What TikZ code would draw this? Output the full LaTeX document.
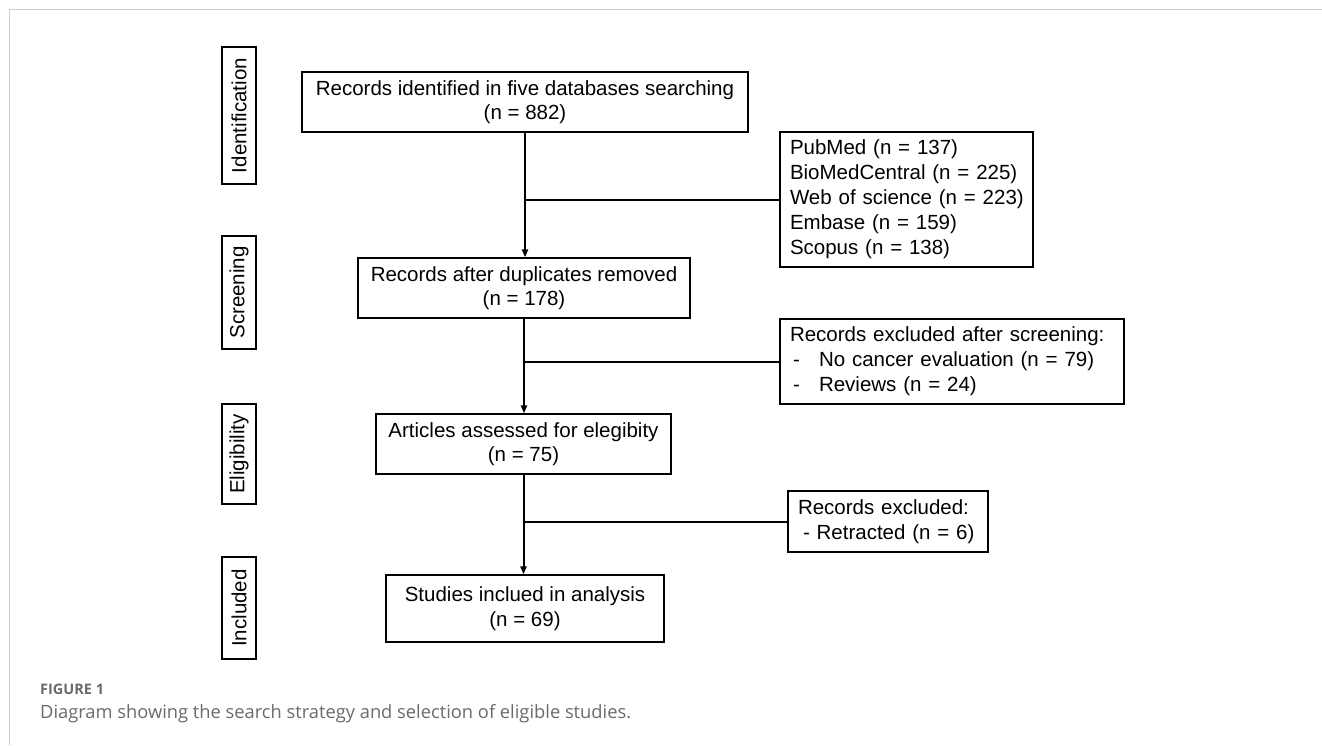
\documentclass[tikz,border=0pt]{standalone}
\usepackage{fontspec}
\setmainfont{Liberation Sans}
\newfontfamily\capfont{Open Sans}
\usetikzlibrary{arrows.meta}
\definecolor{framegray}{HTML}{CCCCCC}
\definecolor{capgray}{HTML}{6A6A6A}
\begin{document}
\begin{tikzpicture}[x=1pt,y=-1pt,
  box/.style={draw, line width=1.3pt, inner sep=0pt, align=center,
    font=\fontsize{20.5}{24.5}\selectfont},
  lbox/.style={draw, line width=1.3pt, inner xsep=10pt, inner ysep=0pt, align=left,
    font=\fontsize{20.5}{25}\selectfont},
  side/.style={draw, line width=1.6pt, inner sep=0pt, rotate=90, minimum height=34pt,
    font=\fontsize{20.5}{24}\selectfont},
  flow/.style={line width=2pt, -{Triangle[length=8pt,width=6pt]}},
  branch/.style={line width=2pt}
]
\useasboundingbox (0,0) rectangle (1322,745);
\draw[framegray, line width=1pt] (9,745) -- (9,9) -- (1322,9);

% phase labels
\node[side, minimum width=137pt] (sid) at (239,115.5) {Identification};
\node[side, minimum width=113pt] (sscr) at (239,292.5) {Screening};
\node[side, minimum width=100pt] (selg) at (239,454) {Eligibility};
\node[side, minimum width=102pt] (sinc) at (239,608) {Included};

% main boxes
\node[box, minimum width=446pt, minimum height=60pt] (b1) at (525,102)
  {Records identified in five databases searching\\(n = 882)};
\node[box, minimum width=332pt, minimum height=60pt] (b2) at (524,288)
  {Records after duplicates removed\\(n = 178)};
\node[box, minimum width=295pt, minimum height=60pt] (b3) at (523.5,444)
  {Articles assessed for elegibity\\(n = 75)};
\node[box, minimum width=278pt, minimum height=67pt] (b4) at (525,608.5)
  {Studies inclued in analysis\\(n = 69)};

% side boxes
\node[lbox, text width=233pt, minimum height=135pt] (src) at (906.5,199.5)
  {\mbox{PubMed (n = 137)}\\\mbox{BioMedCentral (n = 225)}\\\mbox{Web of science (n = 223)}\\\mbox{Embase (n = 159)}\\\mbox{Scopus (n = 138)}};
\node[lbox, text width=324pt, minimum height=85pt] (exc) at (952,361.5)
  {Records excluded after screening:\\\makebox[29pt][l]{\hspace{3pt}-}No cancer evaluation (n = 79)\\\makebox[29pt][l]{\hspace{3pt}-}Reviews (n = 24)};
\node[lbox, text width=180pt, minimum height=61pt] (ret) at (888,521.5)
  {Records excluded:\\\hspace{5pt}- Retracted (n = 6)};

% connectors
\draw[flow] (b1.south) -- (b1.south |- b2.north);
\draw[branch] (b1.south |- src.west) -- (src.west);
\draw[flow] (b2.south) -- (b2.south |- b3.north);
\draw[branch] (b2.south |- exc.west) -- (exc.west);
\draw[flow] (b3.south) -- (b3.south |- b4.north);
\draw[branch] (b3.south |- ret.west) -- (ret.west);

% caption
\node[anchor=base west, inner sep=0pt, text=capgray, font=\capfont\bfseries\fontsize{14.5}{16}\selectfont] (fig) at (40,694) {FIGURE 1};
\node[anchor=base west, inner sep=0pt, text=capgray, font=\capfont\fontsize{18.3}{20}\selectfont] (cap) at (40,718) {Diagram showing the search strategy and selection of eligible studies.};
\end{tikzpicture}
\end{document}
